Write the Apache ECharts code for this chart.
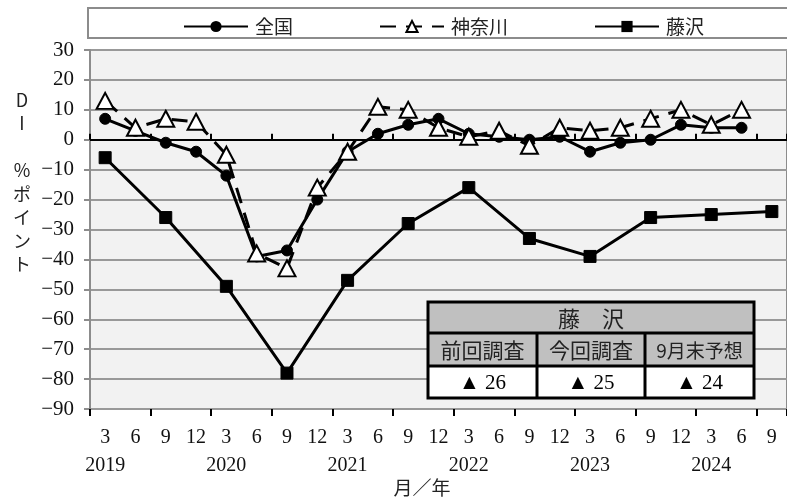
<!DOCTYPE html>
<html>
<head>
<meta charset="utf-8">
<script src="https://cdn.jsdelivr.net/npm/echarts@6/dist/echarts.min.js"></script>
<style>
  html, body { margin: 0; padding: 0; background: #ffffff; }
  #chart { width: 787px; height: 499px; }
</style>
</head>
<body>
<div id="chart"></div>
<script>
// Quarterly survey points, March 2019 – September 2024
const categories = [
  '2019/3','2019/6','2019/9','2019/12',
  '2020/3','2020/6','2020/9','2020/12',
  '2021/3','2021/6','2021/9','2021/12',
  '2022/3','2022/6','2022/9','2022/12',
  '2023/3','2023/6','2023/9','2023/12',
  '2024/3','2024/6','2024/9'
];
const monthLabels = ['3','6','9','12','3','6','9','12','3','6','9','12','3','6','9','12','3','6','9','12','3','6','9'];
const yearLabels  = ['2019','','','','2020','','','','2021','','','','2022','','','','2023','','','','2024','',''];

// DI (% points)
const zenkoku  = [7, 3, -1, -4, -12, -39, -37, -20, -4, 2, 5, 7, 2, 1, 0, 1, -4, -1, 0, 5, 4, 4, null];
const kanagawa = [13, 4, 7, 6, -5, -38, -43, -16, -4, 11, 10, 4, 1, 3, -2, 4, 3, 4, 7, 10, 5, 10, null];
const fujisawa = [-6, null, -26, null, -49, null, -78, null, -47, null, -28, null, -16, null, -33, null, -39, null, -26, null, -25, null, -24];

const seriesNames = ['全国', '神奈川', '藤沢'];
const tableTitle = '藤　沢';
const tableHeads = ['前回調査', '今回調査', '9月末予想'];

const yTicks = { min: -90, max: 30, step: 10 };

// Last three Fujisawa readings feed the summary table
const fujiLatest = fujisawa.filter(v => v !== null).slice(-3);
const tableValues = fujiLatest.map(v => (v < 0 ? '▲ ' : '') + Math.abs(v));

const serif = 'Liberation Serif';
const jp = 'Noto Sans CJK JP';

const chart = echarts.init(document.getElementById('chart'), null, { renderer: 'canvas' });

// Summary table (drawn as graphic elements)
const tX = [428, 537, 645, 754];
const tY = [302, 333, 366, 398];
const tableEls = [];
tableEls.push({ type: 'rect', shape: { x: tX[0], y: tY[0], width: tX[3] - tX[0], height: tY[2] - tY[0] },
  style: { fill: '#c0c0c0', stroke: null }, z: 100 });
tableEls.push({ type: 'rect', shape: { x: tX[0], y: tY[2], width: tX[3] - tX[0], height: tY[3] - tY[2] },
  style: { fill: '#ffffff', stroke: null }, z: 100 });
tableEls.push({ type: 'rect', shape: { x: tX[0], y: tY[0], width: tX[3] - tX[0], height: tY[3] - tY[0] },
  style: { fill: null, stroke: '#000', lineWidth: 3 }, z: 102 });
[tY[1], tY[2]].forEach(y => tableEls.push({ type: 'line', shape: { x1: tX[0], y1: y, x2: tX[3], y2: y },
  style: { stroke: '#000', lineWidth: 3 }, z: 102 }));
[tX[1], tX[2]].forEach(x => tableEls.push({ type: 'line', shape: { x1: x, y1: tY[1], x2: x, y2: tY[3] },
  style: { stroke: '#000', lineWidth: 3 }, z: 102 }));
tableEls.push({ type: 'text', x: (tX[0] + tX[3]) / 2, y: (tY[0] + tY[1]) / 2 + 1, z: 103,
  style: { text: tableTitle, fontSize: 22, fontFamily: jp, fill: '#222', align: 'center', verticalAlign: 'middle' } });
tableHeads.forEach((h, i) => tableEls.push({ type: 'text', x: (tX[i] + tX[i + 1]) / 2, y: (tY[1] + tY[2]) / 2 + 1, z: 103,
  style: { text: h, fontSize: i === 2 ? 19 : 21, fontFamily: jp, fill: '#222', align: 'center', verticalAlign: 'middle' } }));
tableValues.forEach((v, i) => tableEls.push({ type: 'text', x: (tX[i] + tX[i + 1]) / 2, y: (tY[2] + tY[3]) / 2 + 1, z: 103,
  style: { text: v, fontSize: 21, fontFamily: serif, fill: '#000', align: 'center', verticalAlign: 'middle' } }));

const option = {
  animation: false,
  backgroundColor: '#ffffff',
  grid: {
    left: 90, top: 50, right: -11, bottom: 90,
    show: true, backgroundColor: '#f2f2f2', borderColor: '#8c8c8c', borderWidth: 2
  },
  legend: {
    data: seriesNames,
    left: 178, top: 12,
    itemWidth: 64, itemHeight: 14, itemGap: 86,
    textStyle: { fontFamily: jp, fontSize: 19, color: '#222', padding: [0, 0, 0, 2] }
  },
  xAxis: [
    {
      type: 'category', data: categories, boundaryGap: true, position: 'bottom',
      axisLine: { show: false, onZero: false },
      axisTick: { show: false },
      splitLine: { show: false },
      axisLabel: {
        interval: 0, margin: 15, color: '#111', fontFamily: serif, fontSize: 20, lineHeight: 28,
        formatter: (v, i) => monthLabels[i] + '\n' + (yearLabels[i] || ' ')
      }
    },
    {
      type: 'category', data: categories, boundaryGap: true, position: 'bottom',
      axisLine: { show: true, onZero: true, lineStyle: { color: '#000', width: 2 } },
      axisTick: { show: true, inside: true, length: 6, lineStyle: { color: '#000', width: 2 } },
      axisLabel: { show: false }, splitLine: { show: false }
    },
    {
      type: 'category', data: categories, boundaryGap: true, position: 'bottom',
      axisLine: { show: false, onZero: true },
      axisTick: { show: true, inside: false, length: 7, lineStyle: { color: '#000', width: 2 } },
      axisLabel: { show: false }, splitLine: { show: false }
    }
  ],
  yAxis: {
    type: 'value', min: yTicks.min, max: yTicks.max, interval: yTicks.step,
    axisLine: { show: true, lineStyle: { color: '#8c8c8c', width: 2 } },
    axisTick: { show: true, length: 6, lineStyle: { color: '#8c8c8c', width: 2 } },
    splitLine: { show: true, lineStyle: { color: '#999999', width: 2 } },
    axisLabel: {
      margin: 16, color: '#111', fontFamily: serif, fontSize: 21,
      formatter: v => (v < 0 ? '−' + Math.abs(v) : String(v))
    }
  },
  series: [
    {
      name: seriesNames[0], type: 'line', data: zenkoku, xAxisIndex: 0,
      symbol: 'circle', symbolSize: 11, showAllSymbol: true,
      lineStyle: { color: '#000', width: 3 },
      itemStyle: { color: '#000', borderColor: '#000' }, z: 3
    },
    {
      name: seriesNames[1], type: 'line', data: kanagawa, xAxisIndex: 0,
      symbol: 'triangle', symbolSize: [17, 16], showAllSymbol: true,
      lineStyle: { color: '#000', width: 3, type: [16, 10] },
      itemStyle: { color: '#ffffff', borderColor: '#000', borderWidth: 2 }, z: 4
    },
    {
      name: seriesNames[2], type: 'line', data: fujisawa, xAxisIndex: 0, connectNulls: true,
      symbol: 'rect', symbolSize: 12, showAllSymbol: true,
      lineStyle: { color: '#000', width: 3 },
      itemStyle: { color: '#000', borderColor: '#000' }, z: 5
    }
  ],
  graphic: [
    { type: 'rect', z: -10, shape: { x: 88, y: 8, width: 720, height: 30 },
      style: { fill: '#ffffff', stroke: '#8c8c8c', lineWidth: 2 } },
    { type: 'text', x: 22, y: 88, style: { text: 'D\nI\n\n%\nポ\nイ\nン\nト', fontSize: 18, fontFamily: jp,
      lineHeight: 23.5, fill: '#222', align: 'center', verticalAlign: 'top' } },
    { type: 'text', x: 422, y: 488, style: { text: '月／年', fontSize: 19, fontFamily: jp, fill: '#222',
      align: 'center', verticalAlign: 'middle' } },
    { type: 'group', children: tableEls }
  ]
};

chart.setOption(option);
</script>
</body>
</html>
